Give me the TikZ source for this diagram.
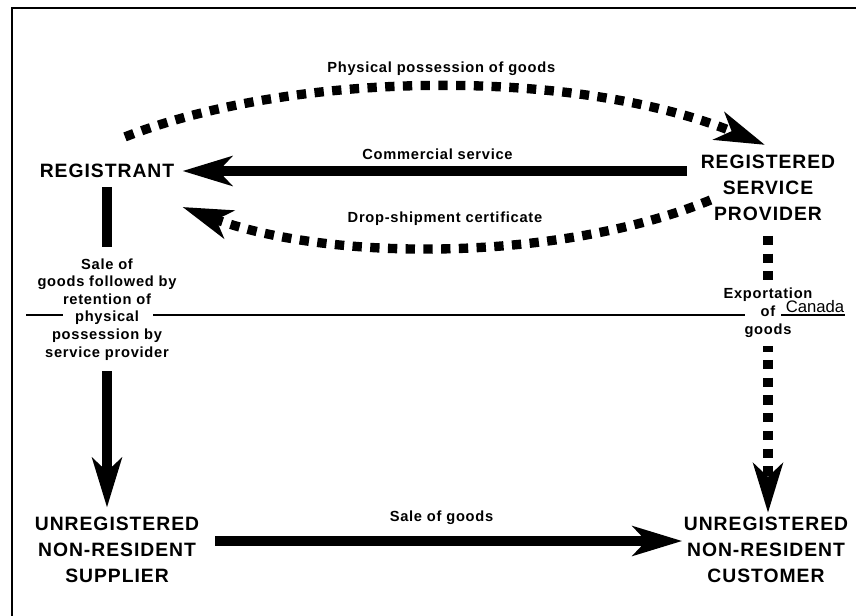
\documentclass[tikz,border=0pt]{standalone}
\usepackage{fontspec}
\setmainfont{Liberation Sans}
\newfontfamily\partysans{Liberation Sans}[LetterSpace=5]
\newfontfamily\tagsans{Liberation Sans}[LetterSpace=5]
\usetikzlibrary{arrows.meta,calc}

\begin{document}
\begin{tikzpicture}[x=0.75pt,y=-0.75pt,>={Stealth[length=37pt,width=22pt,inset=10pt]},
  party/.style={align=center,inner sep=0pt,font=\partysans\bfseries\fontsize{14.5}{19.5}\selectfont},
  tag/.style={align=center,inner sep=0pt,font=\tagsans\bfseries\fontsize{11}{13.2}\selectfont},
  flow/.style={->,line width=7pt},
  dotflow/.style={flow,dash pattern=on 7pt off 6.3pt}]
  \useasboundingbox (0,0) rectangle (856,616);
  \draw[line width=1.5pt] (12,616) -- (12,8) -- (856,8);
  % the four parties
  \node[party] (registrant) at (107,171) {REGISTRANT};
  \node[party] (provider) at (768,188) {REGISTERED\\SERVICE\\PROVIDER};
  \node[party] (supplier) at (117,550) {UNREGISTERED\\NON-RESIDENT\\SUPPLIER};
  \node[party] (customer) at (766,550) {UNREGISTERED\\NON-RESIDENT\\CUSTOMER};
  % flows between them
  \draw[dotflow] ($(registrant.north)+(18,-27)$) .. controls +(175,-68) and +(-185,-76) .. node[tag,above=5pt] (possesstag) {Physical possession of goods} ($(provider.north)+(-3,-10)$);
  \draw[flow,shorten <=10pt,shorten >=6pt] (provider.west |- registrant.east) -- node[tag,above=5pt] (servicetag) {Commercial service} (registrant.east);
  \draw[dotflow] ($(provider.west)+(10,12)$) .. controls +(-151,62) and +(147,55) .. node[tag,above=13pt] (certtag) {Drop-shipment certificate} ($(registrant.east)+(8,36)$);
  \draw[flow,shorten <=7pt,shorten >=7pt] (registrant.south) -- node[tag,fill=white,inner sep=8.5pt,pos=0.387] (retaintag) {Sale of\\goods followed by\\retention of\\physical\\possession by\\service provider} (registrant.south |- supplier.north);
  \draw[flow,shorten <=12pt,shorten >=1pt] ([yshift=6.75pt]supplier.east) -- node[tag,above=8.5pt] (saletag) {Sale of goods} ([yshift=6.75pt]customer.west);
  \draw[dotflow,shorten <=11pt,shorten >=3pt] (provider.south) -- node[tag,fill=white,inner sep=6.5pt,pos=0.31] (exporttag) {Exportation\\of\\goods} (provider.south |- customer.north);
  % border of Canada
  \draw[line width=0.8pt] (26,315) -- (63,315) (153,315) -- (745,315) (781,315) -- (845,315);
  \node[inner sep=0pt,font=\fontsize{12.5}{15}\selectfont] (canada) at (815,307) {Canada};
\end{tikzpicture}
\end{document}
